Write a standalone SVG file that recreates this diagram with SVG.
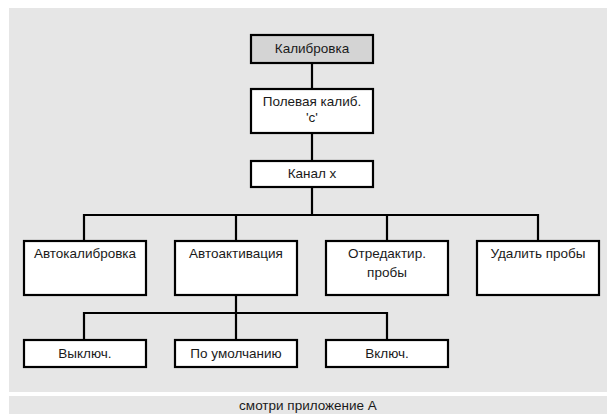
<svg xmlns="http://www.w3.org/2000/svg" width="607" height="414" viewBox="0 0 607 414">
<style>
.box{fill:#ffffff;stroke:#000000;stroke-width:2.2}
.root{fill:#d4d4d4;stroke:#000000;stroke-width:2.2}
.t{font-family:"Liberation Sans",Arial,sans-serif;font-size:13.5px;fill:#1a1a1a;text-anchor:middle}
.c{fill:none;stroke:#000000;stroke-width:2.2}
</style>
<rect x="9" y="8" width="598" height="384" fill="#e6e6e6"/>
<rect x="9" y="396" width="598" height="18" fill="#e6e6e6"/>
<text class="t" x="308" y="410">смотри приложение А</text>
<g id="connectors">
<path class="c" d="M312 63 V89 M312 133 V161 M312 187 V215 M84 241 V215 H538 V241 M236 215 V241 M387 215 V241 M236 295 V313 M84 340 V313 H387 V340 M236 313 V340"/>
</g>
<g id="n-kalibrovka"><rect class="root" x="251" y="35" width="122" height="28"/><text class="t" x="312" y="53">Калибровка</text></g>
<g id="n-polevaya"><rect class="box" x="251" y="89" width="122" height="44"/><text class="t" x="312" y="106">Полевая калиб.</text><text class="t" x="312" y="122">'c'</text></g>
<g id="n-kanal"><rect class="box" x="251" y="161" width="122" height="26"/><text class="t" x="312" y="178">Канал x</text></g>
<g id="n-autocal"><rect class="box" x="24" y="241" width="122" height="54"/><text class="t" x="85" y="258">Автокалибровка</text></g>
<g id="n-autoact"><rect class="box" x="175" y="241" width="122" height="54"/><text class="t" x="236" y="258">Автоактивация</text></g>
<g id="n-edit"><rect class="box" x="326" y="241" width="122" height="54"/><text class="t" x="387" y="258">Отредактир.</text><text class="t" x="387" y="277">пробы</text></g>
<g id="n-delete"><rect class="box" x="477" y="241" width="122" height="54"/><text class="t" x="538" y="258">Удалить пробы</text></g>
<g id="n-off"><rect class="box" x="24" y="340" width="122" height="27"/><text class="t" x="85" y="358">Выключ.</text></g>
<g id="n-default"><rect class="box" x="175" y="340" width="122" height="27"/><text class="t" x="236" y="358">По умолчанию</text></g>
<g id="n-on"><rect class="box" x="326" y="340" width="122" height="27"/><text class="t" x="387" y="358">Включ.</text></g>
</svg>
